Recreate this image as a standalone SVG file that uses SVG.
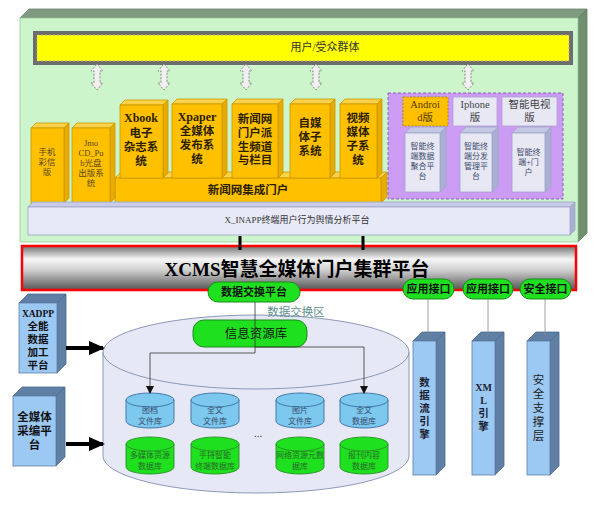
<svg xmlns="http://www.w3.org/2000/svg" width="600" height="509" viewBox="0 0 600 509">
<defs>
<linearGradient id="metal" x1="0" y1="0" x2="0" y2="1">
<stop offset="0" stop-color="#707070"/>
<stop offset="0.3" stop-color="#f6f6f6"/>
<stop offset="0.55" stop-color="#cfcfcf"/>
<stop offset="1" stop-color="#555555"/>
</linearGradient>
<marker id="ah" markerWidth="8" markerHeight="8" refX="7" refY="4" orient="auto" markerUnits="userSpaceOnUse">
<path d="M0,0 L8,4 L0,8 Z" fill="#111"/>
</marker>
<marker id="ahb" markerWidth="16" markerHeight="14" refX="14" refY="7" orient="auto" markerUnits="userSpaceOnUse">
<path d="M0,0 L16,7 L0,14 Z" fill="#000"/>
</marker>
<style>
text{font-family:'Liberation Serif','Noto Sans CJK SC',serif;text-anchor:middle}
.of{fill:#ffc000;stroke:#c99700;stroke-width:0.8}
.ot{fill:#ffd24a;stroke:#c99700;stroke-width:0.8}
.os{fill:#e9ab00;stroke:#c99700;stroke-width:0.8}
.ob{font-size:11.5px;font-weight:bold;fill:#2a2000}
.os8{font-size:8.5px;fill:#5a4a20}
.lf{fill:#e8e8f5;stroke:#9ea4c8;stroke-width:0.8}
.lt{fill:#c4c8e4;stroke:#9ea4c8;stroke-width:0.8}
.ls{fill:#aab0d4;stroke:#9ea4c8;stroke-width:0.8}
.bf{fill:#9cc8f4;stroke:#5f7fa5;stroke-width:0.8}
.bd{fill:#5f7fa5;stroke:#4c6a90;stroke-width:0.8}
.pill{fill:#1ee01e;stroke:#1a8c1a;stroke-width:1}
.pt{font-size:11px;font-weight:bold;fill:#111}
.cyb{fill:#7cc8ee;stroke:#3a6ea5;stroke-width:0.9}
.cyg{fill:#1ee01e;stroke:#2a8f2a;stroke-width:0.9}
.ct{font-size:8px;fill:#3a4a6a}
.cg{font-size:8px;fill:#2a6a2a}
.da{fill:#f0f0f0;stroke:#888;stroke-width:1;stroke-dasharray:2,1.5}
.tb{font-size:10.5px;font-weight:bold;fill:#111}
.tv{font-size:10.5px;font-weight:bold;fill:#1a2030}
</style>
</defs>

<g id="frame">
<polygon points="20,18 29,9 587,9 578,18" fill="#809a80" stroke="#6a846a" stroke-width="0.8"/>
<polygon points="578,18 587,9 587,233 578,242" fill="#6f8f6f" stroke="#5f7f5f" stroke-width="0.8"/>
<rect x="20" y="18" width="558" height="224" fill="#ccf5cc" stroke="#9cc89c" stroke-width="0.8"/>
</g>

<g id="users">
<rect x="35" y="33" width="536" height="30" fill="#ffff00" stroke="#6d6d6d" stroke-width="4"/>
<rect x="37" y="35" width="532" height="26" fill="none" stroke="#b0b0b0" stroke-width="0.8" stroke-dasharray="2,2"/>
<text x="325" y="51" style="font-size:11px;fill:#333">用户/受众群体</text>
</g>

<g id="updown">
<polygon class="da" points="97,64 103,71 100,71 100,83 103,83 97,90 91,83 94,83 94,71 91,71"/>
<polygon class="da" points="164,64 170,71 167,71 167,83 170,83 164,90 158,83 161,83 161,71 158,71"/>
<polygon class="da" points="246,64 252,71 249,71 249,83 252,83 246,90 240,83 243,83 243,71 240,71"/>
<polygon class="da" points="316,64 322,71 319,71 319,83 322,83 316,90 310,83 313,83 313,71 310,71"/>
<polygon class="da" points="468,64 474,71 471,71 471,83 474,83 468,90 462,83 465,83 465,71 462,71"/>
</g>

<g id="portal-base">
<polygon class="ot" points="115,178 121,172 387,172 381,178"/>
<polygon class="os" points="381,178 387,172 387,197 381,203"/>
<rect class="of" x="115" y="178" width="266" height="25"/>
<text class="ob" x="248" y="194">新闻网集成门户</text>
</g>

<g id="mms">
<polygon class="ot" points="31,128 36,123 69,123 64,128"/>
<polygon class="os" points="64,128 69,123 69,198 64,203"/>
<rect class="of" x="31" y="128" width="33" height="75"/>
<text class="os8" x="47" y="155">手机</text>
<text class="os8" x="47" y="165">彩信</text>
<text class="os8" x="47" y="175">版</text>
</g>

<g id="jmo">
<polygon class="ot" points="72,128 77,123 115,123 110,128"/>
<polygon class="os" points="110,128 115,123 115,198 110,203"/>
<rect class="of" x="72" y="128" width="38" height="75"/>
<text class="os8" x="91" y="146">Jmo</text>
<text class="os8" x="91" y="156">CD_Pu</text>
<text class="os8" x="91" y="166">b光盘</text>
<text class="os8" x="91" y="176">出版系</text>
<text class="os8" x="91" y="186">统</text>
</g>

<g id="xbook">
<polygon class="ot" points="120,105 125,100 168,100 163,105"/>
<polygon class="os" points="163,105 168,100 168,173 163,178"/>
<rect class="of" x="120" y="105" width="43" height="73"/>
<text class="ob" x="141" y="122" style="font-size:12px">Xbook</text>
<text class="ob" x="141" y="137">电子</text>
<text class="ob" x="141" y="151">杂志系</text>
<text class="ob" x="141" y="165">统</text>
</g>

<g id="xpaper">
<polygon class="ot" points="172,104 177,99 227,99 222,104"/>
<polygon class="os" points="222,104 227,99 227,173 222,178"/>
<rect class="of" x="172" y="104" width="50" height="74"/>
<text class="ob" x="197" y="121" style="font-size:12px">Xpaper</text>
<text class="ob" x="197" y="135">全媒体</text>
<text class="ob" x="197" y="149">发布系</text>
<text class="ob" x="197" y="163">统</text>
</g>

<g id="channel">
<polygon class="ot" points="232,104 237,99 283,99 278,104"/>
<polygon class="os" points="278,104 283,99 283,173 278,178"/>
<rect class="of" x="232" y="104" width="46" height="74"/>
<text class="ob" x="255" y="123">新闻网</text>
<text class="ob" x="255" y="137">门户派</text>
<text class="ob" x="255" y="151">生频道</text>
<text class="ob" x="255" y="164">与栏目</text>
</g>

<g id="wemedia">
<polygon class="ot" points="290,104 295,99 335,99 330,104"/>
<polygon class="os" points="330,104 335,99 335,173 330,178"/>
<rect class="of" x="290" y="104" width="40" height="74"/>
<text class="ob" x="310" y="127">自媒</text>
<text class="ob" x="310" y="141">体子</text>
<text class="ob" x="310" y="155">系统</text>
</g>

<g id="video">
<polygon class="ot" points="340,104 345,99 382,99 377,104"/>
<polygon class="os" points="377,104 382,99 382,173 377,178"/>
<rect class="of" x="340" y="104" width="37" height="74"/>
<text class="ob" x="358" y="122">视频</text>
<text class="ob" x="358" y="136">媒体</text>
<text class="ob" x="358" y="150">子系</text>
<text class="ob" x="358" y="164">统</text>
</g>

<g id="mobile">
<rect x="388" y="93" width="175" height="106" fill="#cc9cf5" stroke="#8a60b8" stroke-width="1" stroke-dasharray="3,2"/>
<rect x="403" y="97" width="45" height="29" fill="#ffc000" stroke="#a07a00" stroke-width="0.8" stroke-dasharray="2,1.5"/>
<text x="425" y="108" style="font-size:10.5px;fill:#553a00">Androi</text>
<text x="425" y="121" style="font-size:10.5px;fill:#553a00">d版</text>
<rect x="453" y="97" width="44" height="29" fill="#e8e8f5" stroke="#b0a0d0" stroke-width="0.8"/>
<text x="475" y="108" style="font-size:10.5px;fill:#444">Iphone</text>
<text x="475" y="121" style="font-size:10.5px;fill:#444">版</text>
<rect x="502" y="97" width="55" height="29" fill="#e8e8f5" stroke="#b0a0d0" stroke-width="0.8"/>
<text x="529.5" y="108" style="font-size:10.5px;fill:#444">智能电视</text>
<text x="529.5" y="121" style="font-size:10.5px;fill:#444">版</text>
<polygon class="lt" points="405,133 411,127 446,127 440,133"/>
<polygon class="ls" points="440,133 446,127 446,186 440,192"/>
<rect class="lf" x="405" y="133" width="35" height="59"/>
<text class="ct" x="422.5" y="149">智能终</text>
<text class="ct" x="422.5" y="159">端数据</text>
<text class="ct" x="422.5" y="169">聚合平</text>
<text class="ct" x="422.5" y="179">台</text>
<polygon class="lt" points="460,133 466,127 498,127 492,133"/>
<polygon class="ls" points="492,133 498,127 498,186 492,192"/>
<rect class="lf" x="460" y="133" width="32" height="59"/>
<text class="ct" x="476" y="149">智能终</text>
<text class="ct" x="476" y="159">端分发</text>
<text class="ct" x="476" y="169">管理平</text>
<text class="ct" x="476" y="179">台</text>
<polygon class="lt" points="512,133 518,127 551,127 545,133"/>
<polygon class="ls" points="545,133 551,127 551,186 545,192"/>
<rect class="lf" x="512" y="133" width="33" height="59"/>
<text class="ct" x="528.5" y="155">智能终</text>
<text class="ct" x="528.5" y="165">端+门</text>
<text class="ct" x="528.5" y="175">户</text>
</g>

<g id="xinapp">
<polygon points="28,207 33,202 575,202 570,207" fill="#c8cce8" stroke="#9ea4c8" stroke-width="0.8"/>
<polygon points="570,207 575,202 575,230 570,235" fill="#aab0d4" stroke="#9ea4c8" stroke-width="0.8"/>
<rect x="28" y="207" width="542" height="28" fill="#e8e9f7" stroke="#9ea4c8" stroke-width="0.8"/>
<text x="297" y="223" style="font-size:9px;fill:#333">X_INAPP终端用户行为舆情分析平台</text>
</g>

<g id="xcms">
<rect x="22" y="246" width="554" height="44" fill="url(#metal)" stroke="#ff0000" stroke-width="2.5"/>
<text x="297" y="276" style="font-size:19px;font-weight:bold;fill:#000">XCMS智慧全媒体门户集群平台</text>
</g>

<g id="storage">
<path d="M103,352 L103,456 A153,37 0 0 0 409,456 L409,352 Z" fill="#e6e8f5" stroke="#7f8fb0" stroke-width="0.9"/>
<ellipse cx="256" cy="352" rx="153" ry="37" fill="#e6e8f5" stroke="#7f8fb0" stroke-width="0.9"/>
<text x="258" y="437" style="font-size:11px;fill:#333">...</text>
</g>

<g id="info-db">
<rect class="pill" x="193" y="320" width="114" height="27" rx="11"/>
<text x="256" y="338" style="font-size:12.5px;fill:#111">信息资源库</text>
</g>

<g id="exchange">
<rect class="pill" x="208" y="282" width="92" height="20" rx="10"/>
<text class="pt" x="254" y="296">数据交换平台</text>
<text x="296" y="316" style="font-size:11.5px;fill:#5f8f8f">数据交换区</text>
</g>

<g id="api1">
<rect class="pill" x="403" y="279" width="51" height="20" rx="10"/>
<text class="pt" x="428.5" y="293">应用接口</text>
</g>
<g id="api2">
<rect class="pill" x="463" y="279" width="50" height="20" rx="10"/>
<text class="pt" x="488" y="293">应用接口</text>
</g>
<g id="api3">
<rect class="pill" x="520" y="279" width="51" height="20" rx="10"/>
<text class="pt" x="545.5" y="293">安全接口</text>
</g>

<g id="cyl-b1">
<path class="cyb" d="M126,400 L126,421 A24,7 0 0 0 174,421 L174,400 Z"/>
<ellipse class="cyb" cx="150" cy="400" rx="24" ry="7"/>
<text class="ct" x="150" y="413">图档</text>
<text class="ct" x="150" y="424">文件库</text>
</g>
<g id="cyl-b2">
<path class="cyb" d="M191,400 L191,421 A24,7 0 0 0 239,421 L239,400 Z"/>
<ellipse class="cyb" cx="215" cy="400" rx="24" ry="7"/>
<text class="ct" x="215" y="413">全文</text>
<text class="ct" x="215" y="424">文件库</text>
</g>
<g id="cyl-b3">
<path class="cyb" d="M276,400 L276,421 A24,7 0 0 0 324,421 L324,400 Z"/>
<ellipse class="cyb" cx="300" cy="400" rx="24" ry="7"/>
<text class="ct" x="300" y="413">图片</text>
<text class="ct" x="300" y="424">文件库</text>
</g>
<g id="cyl-b4">
<path class="cyb" d="M340,400 L340,421 A24,7 0 0 0 388,421 L388,400 Z"/>
<ellipse class="cyb" cx="364" cy="400" rx="24" ry="7"/>
<text class="ct" x="364" y="413">全文</text>
<text class="ct" x="364" y="424">数据库</text>
</g>
<g id="cyl-g1">
<path class="cyg" d="M126,444 L126,467 A24,7 0 0 0 174,467 L174,444 Z"/>
<ellipse class="cyg" cx="150" cy="444" rx="24" ry="7"/>
<text class="cg" x="150" y="458">多媒体资源</text>
<text class="cg" x="150" y="469">数据库</text>
</g>
<g id="cyl-g2">
<path class="cyg" d="M191,444 L191,467 A24,7 0 0 0 239,467 L239,444 Z"/>
<ellipse class="cyg" cx="215" cy="444" rx="24" ry="7"/>
<text class="cg" x="215" y="458">手持智能</text>
<text class="cg" x="215" y="469">终端数据库</text>
</g>
<g id="cyl-g3">
<path class="cyg" d="M276,444 L276,467 A24,7 0 0 0 324,467 L324,444 Z"/>
<ellipse class="cyg" cx="300" cy="444" rx="24" ry="7"/>
<text class="cg" x="300" y="458">网络资源元数</text>
<text class="cg" x="300" y="469">据库</text>
</g>
<g id="cyl-g4">
<path class="cyg" d="M340,444 L340,467 A24,7 0 0 0 388,467 L388,444 Z"/>
<ellipse class="cyg" cx="364" cy="444" rx="24" ry="7"/>
<text class="cg" x="364" y="458">报刊内容</text>
<text class="cg" x="364" y="469">数据库</text>
</g>

<g id="xadpp">
<polygon class="bd" points="19,303 28,294 66,294 57,303"/>
<polygon class="bd" points="57,303 66,294 66,364 57,373"/>
<rect class="bf" x="19" y="303" width="38" height="70"/>
<text class="tb" x="38" y="317" style="font-size:9.5px">XADPP</text>
<text class="tb" x="38" y="330">全能</text>
<text class="tb" x="38" y="343">数据</text>
<text class="tb" x="38" y="356">加工</text>
<text class="tb" x="38" y="369">平台</text>
</g>

<g id="editing">
<polygon class="bd" points="13,396 22,387 65,387 56,396"/>
<polygon class="bd" points="56,396 65,387 65,457 56,466"/>
<rect class="bf" x="13" y="396" width="43" height="70"/>
<text class="tb" x="34.5" y="421" style="font-size:11.5px">全媒体</text>
<text class="tb" x="34.5" y="435" style="font-size:11.5px">采编平</text>
<text class="tb" x="34.5" y="449" style="font-size:11.5px">台</text>
</g>

<g id="engine1">
<polygon class="bd" points="413,341 422,332 445,332 436,341"/>
<polygon class="bd" points="436,341 445,332 445,466 436,475"/>
<rect class="bf" x="413" y="341" width="23" height="134"/>
<text class="tv" x="424.5" y="386">数</text>
<text class="tv" x="424.5" y="399">据</text>
<text class="tv" x="424.5" y="412">流</text>
<text class="tv" x="424.5" y="425">引</text>
<text class="tv" x="424.5" y="438">擎</text>
</g>
<g id="engine2">
<polygon class="bd" points="472,341 481,332 504,332 495,341"/>
<polygon class="bd" points="495,341 504,332 504,466 495,475"/>
<rect class="bf" x="472" y="341" width="23" height="134"/>
<text class="tv" x="483.5" y="391" style="font-size:10px">XM</text>
<text class="tv" x="483.5" y="404" style="font-size:10px">L</text>
<text class="tv" x="483.5" y="417">引</text>
<text class="tv" x="483.5" y="430">擎</text>
</g>
<g id="security">
<polygon class="bd" points="527,341 536,332 559,332 550,341"/>
<polygon class="bd" points="550,341 559,332 559,466 550,475"/>
<rect class="bf" x="527" y="341" width="23" height="134"/>
<text x="538.5" y="384" style="font-size:11.5px;fill:#222">安</text>
<text x="538.5" y="398" style="font-size:11.5px;fill:#222">全</text>
<text x="538.5" y="412" style="font-size:11.5px;fill:#222">支</text>
<text x="538.5" y="426" style="font-size:11.5px;fill:#222">撑</text>
<text x="538.5" y="440" style="font-size:11.5px;fill:#222">层</text>
</g>

<g id="connectors" fill="none">
<line x1="240" y1="236" x2="240" y2="250" stroke="#000" stroke-width="3"/>
<line x1="363" y1="236" x2="363" y2="250" stroke="#000" stroke-width="3"/>
<polyline points="255,302 255,353 150,353 150,393" stroke="#333" stroke-width="0.8" marker-end="url(#ah)"/>
<polyline points="255,347 364,347 364,393" stroke="#333" stroke-width="0.8" marker-end="url(#ah)"/>
<line x1="428" y1="299" x2="428" y2="335" stroke="#888" stroke-width="0.8"/>
<line x1="488" y1="299" x2="488" y2="335" stroke="#888" stroke-width="0.8"/>
<line x1="545" y1="299" x2="545" y2="335" stroke="#888" stroke-width="0.8"/>
<line x1="66" y1="348" x2="103" y2="348" stroke="#000" stroke-width="4" marker-end="url(#ahb)"/>
<line x1="66" y1="444" x2="103" y2="444" stroke="#000" stroke-width="4" marker-end="url(#ahb)"/>
</g>
</svg>
